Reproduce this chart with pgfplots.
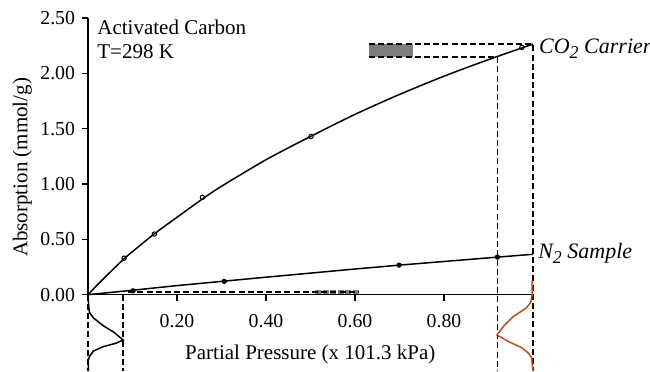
\documentclass[border=0pt]{standalone}
\usepackage{fontspec}
\setmainfont{Liberation Serif}
\usepackage{pgfplots}
\pgfplotsset{compat=1.18}
\definecolor{peakorange}{RGB}{185,80,30}
\definecolor{boxgray}{RGB}{125,125,125}
\begin{document}
\begin{tikzpicture}
\begin{axis}[
  scale only axis, width=222.5pt, height=138.3pt,
  xmin=0, xmax=1, ymin=0, ymax=2.5,
  axis lines=left, axis line style={-, line width=0.75pt},
  clip=false,
  xtick={0.2,0.4,0.6,0.8}, xticklabels={0.20,0.40,0.60,0.80},
  ytick={0,0.5,1,1.5,2,2.5}, yticklabels={0.00,0.50,1.00,1.50,2.00,2.50},
  tick align=outside, major tick length=3pt,
  tick style={line width=0.7pt, black},
  tick label style={font=\fontsize{9.9}{11}\selectfont},
  xticklabel style={yshift=-3.5pt},
  /pgf/number format/assume math mode=true,
  xlabel={Partial Pressure (x 101.3 kPa)},
  ylabel={Absorption (mmol/g)},
  every axis x label/.style={at={(axis description cs:0.4995,-0.215)},anchor=center,font=\fontsize{10.5}{12}\selectfont},
  every axis y label/.style={at={(axis description cs:-0.148,0.46)},rotate=90,anchor=center,font=\fontsize{10.5}{12}\selectfont},
  dashed guide/.style={black, line width=0.8pt, dash pattern=on 3pt off 1.6pt, forget plot},
]
% gray boxes
\addplot[fill=boxgray, draw=none, forget plot] coordinates {(0.631,2.148) (0.730,2.148) (0.730,2.266) (0.631,2.266)} -- cycle;
\addplot[boxgray, line width=1.6pt, dash pattern=on 3pt off 0.8pt, forget plot] coordinates {(0.51,0.025) (0.61,0.025)};
% dashed guides
\addplot[dashed guide] coordinates {(0.631,2.266) (1.0,2.266) (1.0,-0.691)};
\addplot[dashed guide] coordinates {(0.631,2.148) (0.92,2.148) (0.92,-0.691)};
\addplot[dashed guide] coordinates {(0,0) (0,-0.691)};
\addplot[dashed guide] coordinates {(0.079,0) (0.079,-0.691)};
\addplot[dashed guide] coordinates {(0.09,0.025) (0.61,0.025)};
% CO2 fit curve
\addplot[black, line width=0.75pt, smooth, forget plot] coordinates {
 (0,0) (0.02,0.085) (0.05,0.205) (0.081,0.325) (0.1,0.39) (0.149,0.55) (0.2,0.70)
 (0.257,0.865) (0.3,0.98) (0.4,1.22) (0.5,1.43) (0.6,1.63) (0.7,1.81) (0.8,1.975)
 (0.9,2.125) (1.0,2.265)};
% CO2 points
\addplot[only marks, mark=o, mark size=1.1pt, black, line width=0.5pt] coordinates {
 (0.081,0.33) (0.149,0.548) (0.257,0.88) (0.501,1.43) (0.975,2.235)};
% N2 fit curve
\addplot[black, line width=0.75pt, forget plot] coordinates {
 (0,0) (0.05,0.02) (0.1,0.04) (0.2,0.082) (0.3,0.12) (0.4,0.158) (0.5,0.195)
 (0.6,0.232) (0.7,0.267) (0.8,0.30) (0.9,0.333) (1.0,0.365)};
% N2 points
\addplot[only marks, mark=*, mark size=1.1pt, black] coordinates {
 (0.101,0.035) (0.306,0.12) (0.699,0.267) (0.92,0.34)};
% peaks
\addplot[black, line width=0.75pt, forget plot] coordinates {
 (0,0) (0.001,-0.08) (0.003,-0.16) (0.012,-0.21) (0.034,-0.28) (0.058,-0.34)
 (0.079,-0.41) (0.062,-0.44) (0.034,-0.47) (0.012,-0.51) (0.003,-0.56) (0,-0.60) (0.001,-0.691)};
\addplot[peakorange, line width=0.75pt, forget plot] coordinates {
 (0.998,0.13) (0.998,0.0) (0.995,-0.07) (0.985,-0.12) (0.955,-0.20) (0.935,-0.28)
 (0.919,-0.365) (0.948,-0.43) (0.975,-0.48) (0.99,-0.53) (0.997,-0.57) (0.998,-0.62) (1.0,-0.691)};
% text
\node[anchor=north west, align=left, inner sep=0pt, font=\fontsize{10.5}{12}\selectfont]
  at (axis cs:0.02,2.49) {Activated Carbon\\T=298 K};
\node[anchor=base west, inner sep=0pt, font=\fontsize{11}{13}\selectfont\itshape]
  at (axis cs:1.013,2.184) {CO\raisebox{-0.5ex}{\small 2} Carrier};
\node[anchor=base west, inner sep=0pt, font=\fontsize{11}{13}\selectfont\itshape]
  at (axis cs:1.011,0.331) {N\raisebox{-0.5ex}{\small 2} Sample};
\coordinate (BL) at (axis cs:-0.198,-0.691);
\coordinate (TR) at (axis cs:1.263,2.664);
\end{axis}
\pgfresetboundingbox
\path[use as bounding box] (BL) rectangle (TR);
\end{tikzpicture}
\end{document}
